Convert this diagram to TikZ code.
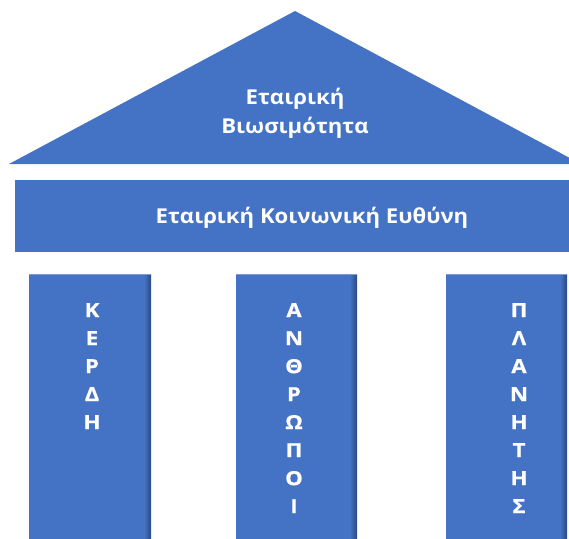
\documentclass[tikz,border=0pt]{standalone}
\usepackage{fontspec}
\setmainfont{Open Sans}[FakeStretch=1.08]
\newfontfamily\pillarfont{Open Sans}[FakeStretch=1.14, BoldFeatures={FakeBold=0.6}]
\definecolor{offblue}{HTML}{4472C4}
\definecolor{shadeblue}{HTML}{2A4A80}
\begin{document}
\begin{tikzpicture}[x=1pt,y=-1pt,
  shapefill/.style={fill=offblue, draw=none},
  title/.style={text=white, font=\bfseries\fontsize{20.5}{29}\selectfont, inner sep=0pt},
  pillartext/.style={text=white, font=\pillarfont\bfseries\fontsize{19.5}{28}\selectfont, inner sep=0pt, align=center, anchor=north}]
\useasboundingbox (0,0) rectangle (569,538);
\clip (0,0) rectangle (569,538);
% roof
\fill[shapefill] (9,164) -- (295,11) -- (581,164) -- cycle;
% beam
\fill[shapefill] (15,180) rectangle (585,252);
% pillars
\foreach \xa/\xb in {29/151, 236/357, 446/567}{
  \fill[shapefill] (\xa,274) rectangle (\xb,545);
  \shade[left color=offblue, right color=shadeblue] (\xb-7,274) rectangle (\xb,545);
  \draw[offblue!70!white, line width=0.8pt] (\xa,274.4) -- (\xb,274.4);
}
\node[title, anchor=base] (roof1) at (295,104) {Εταιρική};
\node[title, anchor=base] (roof2) at (295,133) {Βιωσιμότητα};
\node[title, anchor=base] (beam) at (312,223) {Εταιρική Κοινωνική Ευθύνη};
\node[pillartext] (p1) at (92,303) {Κ\\Ε\\Ρ\\Δ\\Η};
\node[pillartext] (p2) at (294,303) {Α\\Ν\\Θ\\Ρ\\Ω\\Π\\Ο\\Ι};
\node[pillartext] (p3) at (519,303) {Π\\Λ\\Α\\Ν\\Η\\Τ\\Η\\Σ};
\end{tikzpicture}
\end{document}
